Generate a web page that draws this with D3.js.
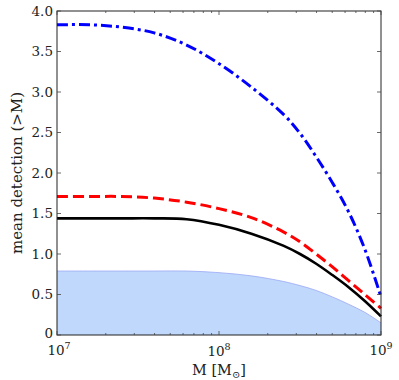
<!DOCTYPE html>
<html>
  <head>
    <meta charset="utf-8">
    <script src="https://d3js.org/d3.v7.min.js"></script>
    <style>
      body { margin: 0; background: white; }
      text { font-family: "DejaVu Serif", serif; fill: #222; }
    </style>
  </head>
  <body>
    <div id="chart"></div>
    <script>
        // log10 of mass, shared grid for all curves
        var logM = [7.0, 7.2, 7.4, 7.6, 7.8, 8.0, 8.2, 8.4, 8.5, 8.6, 8.7, 8.8, 8.9, 9.0]
        var blueVals = [3.83, 3.83, 3.80, 3.73, 3.58, 3.35, 3.06, 2.72, 2.49, 2.20, 1.88, 1.52, 1.06, 0.47]
        var redVals = [1.71, 1.71, 1.71, 1.69, 1.64, 1.56, 1.45, 1.27, 1.15, 1.00, 0.84, 0.67, 0.50, 0.33]
        var blackVals = [1.44, 1.44, 1.44, 1.44, 1.43, 1.36, 1.25, 1.10, 1.00, 0.88, 0.74, 0.59, 0.42, 0.23]
        var fillVals = [0.79, 0.79, 0.79, 0.79, 0.79, 0.77, 0.73, 0.66, 0.61, 0.55, 0.47, 0.38, 0.28, 0.15]
        var yTicks = [0, 0.5, 1.0, 1.5, 2.0, 2.5, 3.0, 3.5, 4.0]
        var yTickLabels = ["0", "0.5", "1.0", "1.5", "2.0", "2.5", "3.0", "3.5", "4.0"]
        var xDecades = [7, 8, 9]

        var W = 399, H = 380
        var margin = {left: 57, right: 18, top: 11, bottom: 45}

        var svg = d3.select("#chart").append("svg")
            .attr("width", W)
            .attr("height", H)

        var x = d3.scaleLog().domain([1e7, 1e9]).range([margin.left, W - margin.right])
        var y = d3.scaleLinear().domain([0, 4]).range([H - margin.bottom, margin.top])

        function pts(vals) {
            return logM.map(function(l, i) { return {m: Math.pow(10, l), v: vals[i]} })
        }

        var line = d3.line()
            .x(function(d) { return x(d.m) })
            .y(function(d) { return y(d.v) })
            .curve(d3.curveCatmullRom.alpha(0.5))

        var area = d3.area()
            .x(function(d) { return x(d.m) })
            .y0(y(0))
            .y1(function(d) { return y(d.v) })
            .curve(d3.curveCatmullRom.alpha(0.5))

        var plot = svg.append("g")

        plot.append("path")
            .datum(pts(fillVals))
            .attr("d", area)
            .attr("fill", "#c0d8fb")
        plot.append("path")
            .datum(pts(fillVals))
            .attr("d", line)
            .attr("fill", "none")
            .attr("stroke", "#9aa8f5")
            .attr("stroke-width", 0.8)

        plot.append("path")
            .datum(pts(blackVals))
            .attr("d", line)
            .attr("fill", "none")
            .attr("stroke", "black")
            .attr("stroke-width", 2.6)

        plot.append("path")
            .datum(pts(redVals))
            .attr("d", line)
            .attr("fill", "none")
            .attr("stroke", "red")
            .attr("stroke-width", 3)
            .attr("stroke-dasharray", "11,5")

        plot.append("path")
            .datum(pts(blueVals))
            .attr("d", line)
            .attr("fill", "none")
            .attr("stroke", "blue")
            .attr("stroke-width", 3)
            .attr("stroke-dasharray", "11,4,3,4")

        // frame
        var x0 = margin.left, x1 = W - margin.right, y0 = H - margin.bottom, y1 = margin.top
        svg.append("rect")
            .attr("x", x0).attr("y", y1)
            .attr("width", x1 - x0).attr("height", y0 - y1)
            .attr("fill", "none")
            .attr("stroke", "#222")
            .attr("stroke-width", 1)

        // y ticks, inward on both sides
        var ticks = svg.append("g").attr("stroke", "#444").attr("stroke-width", 0.8)
        yTicks.forEach(function(t, i) {
            ticks.append("line").attr("x1", x0).attr("x2", x0 + 4).attr("y1", y(t)).attr("y2", y(t))
            ticks.append("line").attr("x1", x1).attr("x2", x1 - 4).attr("y1", y(t)).attr("y2", y(t))
            svg.append("text")
                .attr("x", x0 - 4)
                .attr("y", y(t))
                .attr("dy", t == 0 ? "0.2em" : "0.35em")
                .attr("text-anchor", "end")
                .attr("font-size", 13.5)
                .text(yTickLabels[i])
        })

        // x ticks, major decades and minor 2..9
        xDecades.forEach(function(d) {
            var m = Math.pow(10, d)
            ticks.append("line").attr("x1", x(m)).attr("x2", x(m)).attr("y1", y0).attr("y2", y0 - 4)
            ticks.append("line").attr("x1", x(m)).attr("x2", x(m)).attr("y1", y1).attr("y2", y1 + 4)
            var lab = svg.append("text")
                .attr("x", x(m) + (d == 7 ? 2 : 0))
                .attr("y", d == 8 ? y0 + 21 : y0 + 20)
                .attr("text-anchor", "middle")
                .attr("font-size", 13.5)
            lab.append("tspan").text("10")
            lab.append("tspan").attr("dy", -6).attr("font-size", 9.5).text(d)
            if (d < 9) {
                for (var k = 2; k < 10; k++) {
                    var mm = k * m
                    ticks.append("line").attr("x1", x(mm)).attr("x2", x(mm)).attr("y1", y0).attr("y2", y0 - 2)
                    ticks.append("line").attr("x1", x(mm)).attr("x2", x(mm)).attr("y1", y1).attr("y2", y1 + 2)
                }
            }
        })

        // axis labels
        var xl = svg.append("text")
            .attr("x", (x0 + x1) / 2)
            .attr("y", H - 5)
            .attr("text-anchor", "middle")
            .attr("font-size", 14.5)
        xl.append("tspan").text("M  [M")
        xl.append("tspan").attr("dy", 3).attr("font-size", 10).text("\u2299")
        xl.append("tspan").attr("dy", -3).text("]")

        svg.append("text")
            .attr("transform", "translate(22," + ((y0 + y1) / 2) + ") rotate(-90)")
            .attr("text-anchor", "middle")
            .attr("font-size", 15)
            .text("mean detection (>M)")
    </script>
  </body>
</html>
